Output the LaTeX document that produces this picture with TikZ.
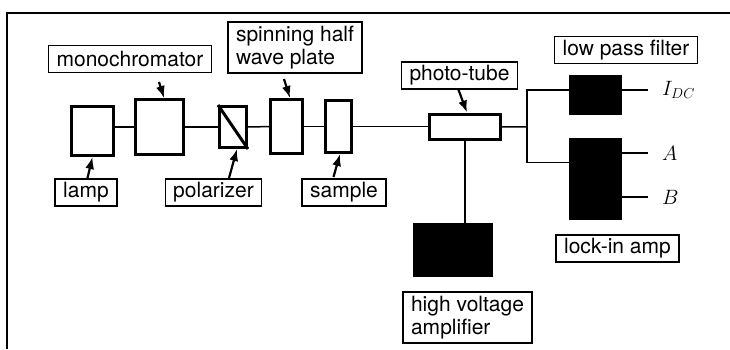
\documentclass[tikz,border=0pt]{standalone}
\usepackage{fontspec}
\setmainfont{TeX Gyre Heros}
\usetikzlibrary{arrows.meta,calc}

\begin{document}
\begin{tikzpicture}[
    x=1pt,
    y=-1pt,
    font=\fontsize{21}{22.5}\selectfont,
    part/.style={rectangle, draw=black, line width=3pt, inner sep=0pt},
    blackpart/.style={part, fill=black, line width=1pt},
    tag/.style={rectangle, draw=black, line width=1.4pt, inner xsep=8pt, inner ysep=3pt, minimum height=27pt, align=left},
    outlabel/.style={anchor=west, inner xsep=14pt, inner ysep=0pt},
    wire/.style={line width=1.5pt},
    pointer/.style={-{Latex[length=12pt,width=9pt]}, line width=2.2pt}
  ]
    \useasboundingbox (0,0) rectangle (730,349);
    \draw[wire] (730,13) -- (7,13) -- (7,349);

    % optical path
    \node[part, minimum width=42pt, minimum height=49pt] (lamp) at (92.5,131) {};
    \node[part, minimum width=48pt, minimum height=55pt] (mono) at (159.5,127) {};
    \node[part, minimum width=27pt, minimum height=41pt] (pol) at (233,127) {};
    \node[part, minimum width=32pt, minimum height=54pt] (wave) at (286.5,126.5) {};
    \node[part, minimum width=26pt, minimum height=52pt] (sample) at (338.5,126.5) {};
    \node[part, minimum width=71pt, minimum height=25pt] (tube) at (465,126.5) {};
    \draw[line width=3pt] (pol.north west) -- (pol.south east);

    % electronics
    \node[blackpart, minimum width=52pt, minimum height=39pt] (lpf) at (595.5,95) {};
    \node[blackpart, minimum width=52pt, minimum height=81pt] (lockin) at (595.5,179) {};
    \node[blackpart, minimum width=79pt, minimum height=53pt] (hv) at (453,250) {};

    % labels
    \node[tag] (monotag) at (130,59) {monochromator};
    \node[tag, minimum height=51pt] (wavetag) at (295,47.5) {spinning half\\wave plate};
    \node[tag] (lamptag) at (86,192.5) {lamp};
    \node[tag] (poltag) at (213.5,192.5) {polarizer};
    \node[tag] (sampletag) at (344,192.5) {sample};
    \node[tag] (tubetag) at (459.5,75.5) {photo-tube};
    \node[tag] (lpftag) at (626,50) {low pass filter};
    \node[tag] (lockintag) at (617.5,248.5) {lock-in amp};
    \node[tag, minimum height=51pt] (hvtag) at (467.5,317.5) {high voltage\\amplifier};

    \node[outlabel] (idc) at (648,90) {$I_{DC}$};
    \node[outlabel] (outa) at (648,153) {$A$};
    \node[outlabel] (outb) at (648,197) {$B$};

    \coordinate (j) at (527,127);
    \coordinate (lockin in) at ($(lockin.north west)!0.3!(lockin.south west)$);

    % beam and signal lines
    \draw[wire] (lamp.east |- mono.west) -- (mono.west);
    \draw[wire] (mono) -- (pol);
    \draw[wire] (pol) -- (wave);
    \draw[wire] (wave) -- (sample);
    \draw[wire] (sample) -- (tube);
    \draw[wire] (tube) -- (j);
    \draw[wire] (lpf.west |- idc.west) -| (j) |- (lockin in);
    \draw[wire] (tube.south) -- (tube.south |- hv.north);
    \draw[wire] (idc.west -| lpf.east) -- (idc.west);
    \draw[wire] (outa.west -| lockin.east) -- (outa.west);
    \draw[wire] (outb.west -| lockin.east) -- (outb.west);

    % pointers
    \draw[pointer] ($(mono.north)+(-0.5,-16)$) -- ($(mono.north)+(4.5,0)$);
    \draw[pointer] ($(wave.north)+(-2.5,-19)$) -- ($(wave.north)+(3.5,0)$);
    \draw[pointer] ($(tube.north)+(-7,-24)$) -- ($(tube.north)+(2,0)$);
    \draw[pointer] ($(lamp.south)+(-5,21)$) -- (lamp.south);
    \draw[pointer] ($(pol.south)+(-4,29)$) -- ($(pol.south)+(4,0)$);
    \draw[pointer] ($(sample.south)+(-5,23)$) -- ($(sample.south)+(1.5,0)$);
  \end{tikzpicture}
\end{document}
